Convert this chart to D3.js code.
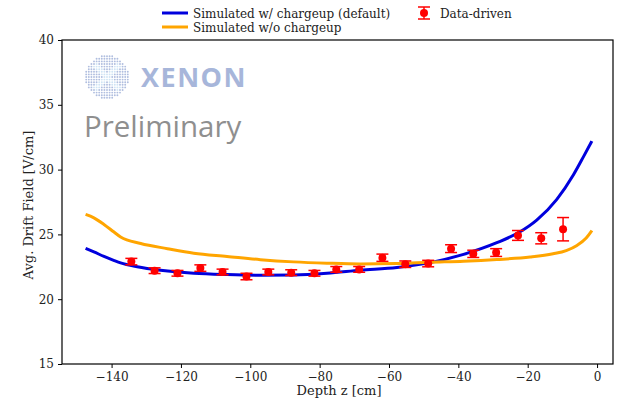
<!DOCTYPE html>
<html><head><meta charset="utf-8">
<script src="https://cdn.jsdelivr.net/npm/d3@7"></script>
<style>body{margin:0;background:#fff}svg{display:block}</style>
</head><body><svg id="c" width="619" height="399"></svg>
<script>
// data
const blueZ = [-147.5,-145.1,-142.2,-139.4,-137.4,-132.6,-125.9,-116.3,-106.7,-97.1,-87.5,-77.9,-68.3,-57.7,-48.1,-38.5,-28.9,-22.2,-17.4,-11.6,-6.8,-3.9,-1.5];
const blueE = [23.92,23.65,23.3,23.0,22.8,22.5,22.23,22.0,21.9,21.85,21.87,22.0,22.23,22.44,22.82,23.46,24.36,25.2,26.1,27.7,29.6,31.0,32.2];
const orangeZ = [-147.5,-145.1,-142.2,-139.4,-137.4,-131.6,-123.9,-116.3,-106.7,-97.1,-87.5,-77.9,-68.3,-57.7,-48.1,-38.5,-28.9,-19.3,-12.7,-8.9,-5.8,-3.2,-1.5];
const orangeE = [26.54,26.28,25.77,25.2,24.8,24.3,23.9,23.55,23.3,23.05,22.88,22.78,22.72,22.75,22.85,22.93,23.06,23.25,23.5,23.75,24.15,24.7,25.3];
const dataZ = [-134.3,-127.6,-121.0,-114.4,-108.0,-101.1,-94.8,-88.2,-81.5,-75.2,-68.6,-61.9,-55.3,-48.7,-42.1,-35.7,-29.1,-22.8,-16.1,-9.8];
const dataE = [22.9,22.2,22.0,22.4,22.1,21.75,22.1,22.05,22.0,22.3,22.3,23.2,22.7,22.75,23.9,23.5,23.6,24.92,24.7,25.4];
const dataErr = [0.25,0.22,0.22,0.25,0.22,0.25,0.22,0.22,0.22,0.22,0.22,0.28,0.25,0.25,0.3,0.28,0.3,0.38,0.43,0.9];
const xTicks = [-140,-120,-100,-80,-60,-40,-20,0];
const yTicks = [15,20,25,30,35,40];
const legendLabels = ["Simulated w/ chargeup (default)","Simulated w/o chargeup","Data-driven"];

const svg = d3.select("#c");
const L=62,R=613,T=40,B=364;
const x = d3.scaleLinear().domain([-154.3,4.6]).range([L,R]);
const y = d3.scaleLinear().domain([15,40]).range([B,T]);
const serif = "'DejaVu Serif', serif";

// watermark logo
const logo = svg.append("g");
const cx=107, cy=77, rr=21.5;
for(let i=-8;i<=8;i++){for(let j=-8;j<=8;j++){
  const px=cx+i*2.6, py=cy+j*2.6;
  const d=Math.hypot(px-cx,py-cy);
  if(d>rr) continue;
  const inner = Math.abs(Math.abs(i)-Math.abs(j))<=1 && d<rr-4;
  logo.append("circle").attr("cx",px).attr("cy",py).attr("r",0.95)
    .attr("fill", inner? "#cfe4f4" : "#b0bedf");
}}
svg.append("text").attr("x",141).attr("y",87).text("XENON")
  .attr("font-family","'Open Sans', sans-serif").attr("font-weight","bold")
  .attr("font-size",27).attr("letter-spacing",1.5).attr("fill","#a7b6da");
svg.append("text").attr("x",84).attr("y",137).text("Preliminary")
  .attr("font-family","'Open Sans', sans-serif")
  .attr("font-size",29.5).attr("fill","#8f8f8f");

// clip
svg.append("clipPath").attr("id","clip").append("rect").attr("x",L).attr("y",T).attr("width",R-L).attr("height",B-T);
const plot = svg.append("g").attr("clip-path","url(#clip)");
const line = d3.line().curve(d3.curveMonotoneX);
plot.append("path").attr("d", line(blueZ.map((z,i)=>[x(z),y(blueE[i])])))
  .attr("fill","none").attr("stroke","#0000dd").attr("stroke-width",3);
plot.append("path").attr("d", line(orangeZ.map((z,i)=>[x(z),y(orangeE[i])])))
  .attr("fill","none").attr("stroke","#ffa500").attr("stroke-width",3);

const pts = plot.append("g");
dataZ.forEach((z,i)=>{
  const g=pts.append("g"); const px=x(z);
  const y0=y(dataE[i]-dataErr[i]), y1=y(dataE[i]+dataErr[i]);
  g.append("line").attr("x1",px).attr("x2",px).attr("y1",y0).attr("y2",y1).attr("stroke","red").attr("stroke-width",1.5);
  [y0,y1].forEach(yy=>g.append("line").attr("x1",px-6).attr("x2",px+6).attr("y1",yy).attr("y2",yy).attr("stroke","red").attr("stroke-width",1.5));
  g.append("circle").attr("cx",px).attr("cy",y(dataE[i])).attr("r",4).attr("fill","red");
});

// axes
const xa = svg.append("g").attr("transform",`translate(0,${B})`)
  .call(d3.axisBottom(x).tickValues(xTicks).tickSize(4).tickPadding(4));
const ya = svg.append("g").attr("transform",`translate(${L},0)`)
  .call(d3.axisLeft(y).tickValues(yTicks).tickSize(4).tickPadding(4));
[xa,ya].forEach(a=>{a.select(".domain").remove();
  a.selectAll("line").attr("stroke","#000").attr("stroke-width",1);
  a.selectAll("text").attr("font-family",serif).attr("font-size",12).attr("fill","#222");});
svg.append("rect").attr("x",L).attr("y",T).attr("width",R-L).attr("height",B-T)
  .attr("fill","none").attr("stroke","#000").attr("stroke-width",1.2);

svg.append("text").attr("x",339).attr("y",395).attr("text-anchor","middle")
  .attr("font-family",serif).attr("font-size",13).attr("fill","#222").text("Depth z [cm]");
svg.append("text").attr("transform",`translate(33,205) rotate(-90)`).attr("text-anchor","middle")
  .attr("font-family",serif).attr("font-size",13).attr("fill","#222").text("Avg. Drift Field [V/cm]");

// legend
const lg = svg.append("g").attr("font-family",serif).attr("font-size",12).attr("fill","#222");
lg.append("line").attr("x1",162).attr("x2",188).attr("y1",13).attr("y2",13).attr("stroke","#0000dd").attr("stroke-width",3);
lg.append("text").attr("x",193).attr("y",17.5).text(legendLabels[0]);
lg.append("line").attr("x1",162).attr("x2",188).attr("y1",27).attr("y2",27).attr("stroke","#ffa500").attr("stroke-width",3);
lg.append("text").attr("x",193).attr("y",31.5).text(legendLabels[1]);
const lx=424;
lg.append("line").attr("x1",lx).attr("x2",lx).attr("y1",7).attr("y2",19).attr("stroke","red").attr("stroke-width",1.5);
[7,19].forEach(yy=>lg.append("line").attr("x1",lx-6).attr("x2",lx+6).attr("y1",yy).attr("y2",yy).attr("stroke","red").attr("stroke-width",1.5));
lg.append("circle").attr("cx",lx).attr("cy",13).attr("r",4).attr("fill","red");
lg.append("text").attr("x",440).attr("y",17.5).text(legendLabels[2]);
</script></body></html>
